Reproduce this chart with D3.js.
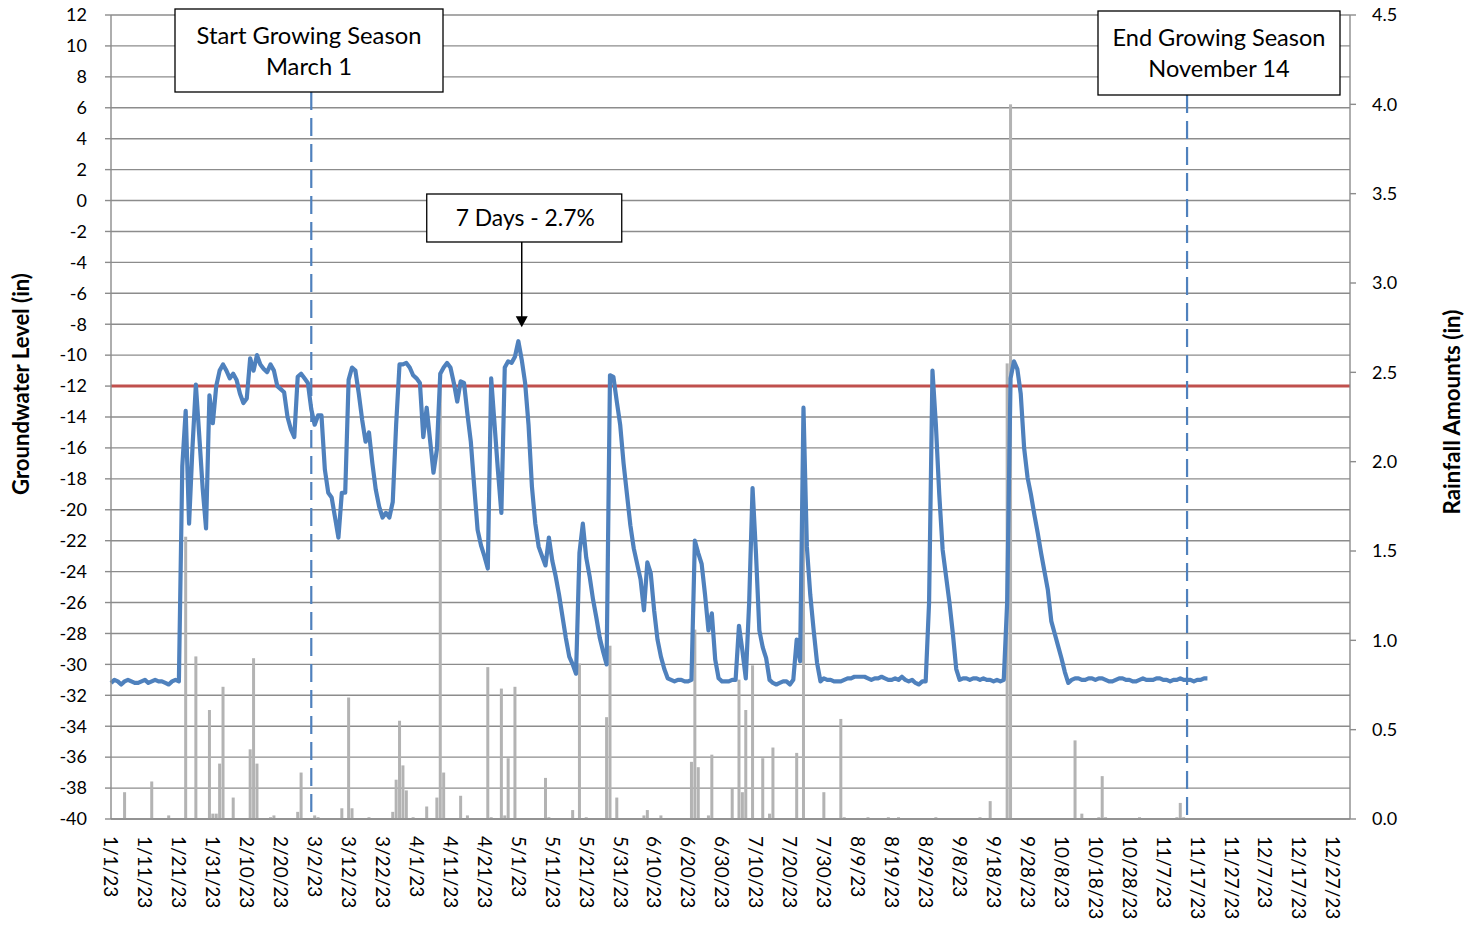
<!DOCTYPE html>
<html>
<head>
<meta charset="utf-8">
<script src="https://cdn.jsdelivr.net/npm/d3@7"></script>
<style>
  body { margin: 0; background: #fff; }
  text { font-family: Lato, "Open Sans", sans-serif; fill: #000; }
</style>
</head>
<body>
<svg id="chart" width="1470" height="929"></svg>
<script>
// Daily groundwater level (inches), one value per day starting on levelStart
const levelStart = "2023-01-01";
const levelValues = [
  -31.2,-31.0,-31.1,-31.3,-31.1,-31.0,-31.1,-31.2,-31.2,-31.1,
  -31.0,-31.2,-31.1,-31.0,-31.1,-31.1,-31.2,-31.3,-31.1,-31.0,
  -31.1,-17.2,-13.6,-20.9,-16.0,-11.9,-15.2,-18.6,-21.2,-12.6,
  -14.4,-12.0,-11.0,-10.6,-11.0,-11.5,-11.2,-11.6,-12.5,-13.1,
  -12.8,-10.2,-11.0,-10.0,-10.6,-10.9,-11.1,-10.6,-11.0,-12.0,
  -12.2,-12.4,-14.0,-14.8,-15.3,-11.4,-11.2,-11.5,-11.8,-13.5,
  -14.5,-13.9,-13.9,-17.4,-18.9,-19.2,-20.5,-21.8,-18.9,-18.9,
  -11.6,-10.8,-11.0,-12.5,-14.2,-15.6,-15.0,-17.0,-18.7,-19.8,
  -20.5,-20.2,-20.5,-19.5,-14.5,-10.6,-10.6,-10.5,-10.8,-11.3,
  -11.5,-11.8,-15.3,-13.4,-15.5,-17.6,-16.1,-11.2,-10.8,-10.5,
  -10.8,-11.8,-13.0,-11.7,-11.8,-13.8,-15.6,-18.5,-21.3,-22.3,
  -23.0,-23.8,-11.5,-14.5,-17.5,-20.2,-10.8,-10.4,-10.5,-10.1,
  -9.1,-10.3,-11.8,-14.5,-18.5,-20.9,-22.4,-23.0,-23.6,-21.8,
  -23.3,-24.3,-25.5,-26.9,-28.3,-29.5,-30.0,-30.6,-22.8,-20.9,
  -23.1,-24.3,-25.8,-27.0,-28.3,-29.2,-30.0,-11.3,-11.4,-13.0,
  -14.5,-17.0,-19.0,-21.0,-22.5,-23.5,-24.5,-26.5,-23.4,-24.1,
  -26.5,-28.4,-29.5,-30.3,-30.9,-31.0,-31.1,-31.0,-31.0,-31.1,
  -31.1,-31.0,-22.0,-22.8,-23.5,-25.5,-27.8,-26.7,-29.7,-30.9,
  -31.1,-31.1,-31.1,-31.0,-31.0,-27.5,-29.1,-30.9,-26.0,-18.6,
  -22.8,-27.8,-28.9,-29.6,-31.0,-31.2,-31.3,-31.2,-31.1,-31.1,
  -31.3,-31.0,-28.4,-29.8,-13.4,-22.4,-25.5,-27.8,-29.9,-31.1,
  -30.9,-31.0,-31.0,-31.1,-31.1,-31.1,-31.0,-30.9,-30.9,-30.8,
  -30.8,-30.8,-30.8,-30.9,-31.0,-30.9,-30.9,-30.8,-30.9,-31.0,
  -31.0,-30.9,-31.0,-30.8,-31.0,-31.1,-31.0,-31.2,-31.3,-31.1,
  -31.1,-26.0,-11.0,-14.5,-19.0,-22.6,-24.3,-26.0,-28.0,-30.3,
  -31.0,-30.9,-30.9,-31.0,-30.9,-30.9,-31.0,-30.9,-31.0,-31.0,
  -31.1,-31.0,-31.1,-31.0,-26.0,-11.5,-10.4,-10.9,-12.5,-16.0,
  -17.9,-19.0,-20.3,-21.5,-22.8,-24.0,-25.2,-27.2,-28.0,-28.8,
  -29.6,-30.5,-31.2,-31.0,-30.9,-30.9,-31.0,-31.0,-30.9,-30.9,
  -31.0,-30.9,-30.9,-31.0,-31.1,-31.1,-31.0,-30.9,-30.9,-31.0,
  -31.0,-31.1,-31.1,-31.0,-30.9,-31.0,-31.0,-31.0,-30.9,-30.9,
  -31.0,-31.0,-31.1,-31.0,-31.0,-30.9,-31.0,-31.0,-31.0,-31.1,
  -31.0,-31.0,-30.9,-30.9
];

// Daily rainfall (inches) on days with measurable rain
const rainDates = [
  "2023-01-05","2023-01-13","2023-01-18","2023-01-23","2023-01-26","2023-01-30","2023-01-31",
  "2023-02-01","2023-02-02","2023-02-03","2023-02-06","2023-02-11","2023-02-12","2023-02-13",
  "2023-02-17","2023-02-18","2023-02-25","2023-02-26","2023-03-02","2023-03-03","2023-03-10",
  "2023-03-12","2023-03-13","2023-03-18","2023-03-25","2023-03-26","2023-03-27","2023-03-28",
  "2023-03-29","2023-03-31","2023-04-04","2023-04-07","2023-04-08","2023-04-09","2023-04-14",
  "2023-04-16","2023-04-22","2023-04-23","2023-04-26","2023-04-27","2023-04-28","2023-04-30",
  "2023-05-09","2023-05-10","2023-05-17","2023-05-19","2023-05-21","2023-05-27","2023-05-28",
  "2023-05-30","2023-06-07","2023-06-08","2023-06-12","2023-06-21","2023-06-22","2023-06-23",
  "2023-06-26","2023-06-27","2023-07-03","2023-07-05","2023-07-06","2023-07-07","2023-07-09",
  "2023-07-12","2023-07-14","2023-07-15","2023-07-22","2023-07-24","2023-07-30","2023-08-04",
  "2023-08-05","2023-08-12","2023-08-18","2023-08-21","2023-09-01","2023-09-14","2023-09-17",
  "2023-09-22","2023-09-23","2023-10-12","2023-10-14","2023-10-19","2023-10-20","2023-10-21",
  "2023-10-31","2023-11-11","2023-11-12","2023-11-13"
];
const rainAmounts = [
  0.15, 0.21, 0.02, 1.58, 0.91, 0.61, 0.03,
  0.03, 0.31, 0.74, 0.12, 0.39, 0.90, 0.31,
  0.01, 0.02, 0.04, 0.26, 0.02, 0.01, 0.06,
  0.68, 0.06, 0.01, 0.04, 0.22, 0.55, 0.30,
  0.16, 0.01, 0.07, 0.12, 2.50, 0.26, 0.13,
  0.02, 0.85, 0.01, 0.73, 0.02, 0.34, 0.74,
  0.23, 0.01, 0.05, 0.87, 0.01, 0.57, 0.97,
  0.12, 0.02, 0.05, 0.02, 0.32, 1.06, 0.29,
  0.02, 0.36, 0.17, 0.78, 0.15, 0.61, 0.86,
  0.34, 0.03, 0.40, 0.37, 2.30, 0.15, 0.56,
  0.01, 0.01, 0.01, 0.01, 0.01, 0.01, 0.10,
  2.55, 4.00, 0.44, 0.03, 0.01, 0.24, 0.01,
  0.01, 0.01, 0.09, 0.01
];

const thresholdLevel = -12;
const leftTicks = [-40,-38,-36,-34,-32,-30,-28,-26,-24,-22,-20,-18,-16,-14,-12,-10,-8,-6,-4,-2,0,2,4,6,8,10,12];
const rightTicks = [0, 0.5, 1.0, 1.5, 2.0, 2.5, 3.0, 3.5, 4.0, 4.5];
const tickStepDays = 10;
const seasonStart = { date: "2023-03-01", lines: ["Start Growing Season", "March 1"] };
const seasonEnd = { date: "2023-11-14", lines: ["End Growing Season", "November 14"] };
const peakNote = { date: "2023-05-02", level: -8.2, text: "7 Days - 2.7%" };

// Layout
const plot = { left: 111, right: 1350, top: 15, bottom: 819 };
const C = {
  grid: "#8c8c8c", axis: "#8c8c8c", bar: "#b3b3b3",
  level: "#4f81bd", threshold: "#c0504d", dash: "#4f81bd"
};

const parse = d3.timeParse("%Y-%m-%d");
const start = parse(levelStart);
const levelData = levelValues.map((v, i) => ({ date: d3.timeDay.offset(start, i), value: v }));
const rainData = rainDates.map((d, i) => ({ date: parse(d), value: rainAmounts[i] }));

const x = d3.scaleTime()
  .domain([start, d3.timeYear.offset(start, 1)])
  .range([plot.left, plot.right]);
const y = d3.scaleLinear().domain([-40, 12]).range([plot.bottom, plot.top]);
const yRain = d3.scaleLinear().domain([0, 4.5]).range([plot.bottom, plot.top]);

const svg = d3.select("#chart");

// Horizontal gridlines
svg.append("g").selectAll("line").data(leftTicks).join("line")
  .attr("x1", plot.left).attr("x2", plot.right)
  .attr("y1", d => y(d)).attr("y2", d => y(d))
  .attr("stroke", C.grid).attr("stroke-width", 1.4);

// Rainfall bars
const barW = 3;
svg.append("g").selectAll("rect").data(rainData).join("rect")
  .attr("x", d => x(d.date) - barW / 2)
  .attr("width", barW)
  .attr("y", d => yRain(d.value))
  .attr("height", d => yRain(0) - yRain(d.value))
  .attr("fill", C.bar);

// Threshold level
svg.append("line")
  .attr("x1", plot.left).attr("x2", plot.right)
  .attr("y1", y(thresholdLevel)).attr("y2", y(thresholdLevel))
  .attr("stroke", C.threshold).attr("stroke-width", 3);

// Groundwater level
svg.append("path").datum(levelData)
  .attr("d", d3.line().x(d => x(d.date)).y(d => y(d.value)))
  .attr("fill", "none").attr("stroke", C.level)
  .attr("stroke-width", 4.2).attr("stroke-linejoin", "round");

// Axes
const axisG = svg.append("g");
axisG.append("line").attr("x1", plot.left).attr("x2", plot.left)
  .attr("y1", plot.top).attr("y2", plot.bottom).attr("stroke", C.axis).attr("stroke-width", 1.4);
axisG.append("line").attr("x1", plot.right).attr("x2", plot.right)
  .attr("y1", plot.top).attr("y2", plot.bottom).attr("stroke", C.axis).attr("stroke-width", 1.4);
axisG.append("line").attr("x1", plot.left).attr("x2", plot.right)
  .attr("y1", plot.bottom).attr("y2", plot.bottom).attr("stroke", C.axis).attr("stroke-width", 1.4);

// Left axis ticks and labels
axisG.selectAll(".lt").data(leftTicks).join("line")
  .attr("x1", plot.left - 6).attr("x2", plot.left)
  .attr("y1", d => y(d)).attr("y2", d => y(d))
  .attr("stroke", C.axis).attr("stroke-width", 1.4);
axisG.selectAll(".ll").data(leftTicks).join("text")
  .attr("x", 87).attr("y", d => y(d)).attr("dy", "0.35em")
  .attr("text-anchor", "end").attr("font-size", 18)
  .text(d => d);

// Right axis ticks and labels
axisG.selectAll(".rt").data(rightTicks).join("line")
  .attr("x1", plot.right).attr("x2", plot.right + 6)
  .attr("y1", d => yRain(d)).attr("y2", d => yRain(d))
  .attr("stroke", C.axis).attr("stroke-width", 1.4);
axisG.selectAll(".rl").data(rightTicks).join("text")
  .attr("x", 1372).attr("y", d => yRain(d)).attr("dy", "0.35em")
  .attr("text-anchor", "start").attr("font-size", 18)
  .text(d => d3.format(".1f")(d));

// Bottom axis labels, every ten days, rotated to read downward
const xTicks = d3.range(0, 361, tickStepDays).map(i => d3.timeDay.offset(start, i));
const fmt = d => `${d.getMonth() + 1}/${d.getDate()}/${String(d.getFullYear()).slice(2)}`;
axisG.selectAll(".xl").data(xTicks).join("text")
  .attr("transform", d => `translate(${x(d)},836) rotate(90)`)
  .attr("dy", "0.35em").attr("text-anchor", "start").attr("font-size", 19)
  .text(fmt);

// Axis titles
function fitWidth(sel, target) {
  const fs = parseFloat(sel.attr("font-size"));
  const w = sel.node().getComputedTextLength();
  if (w > 0) sel.attr("font-size", (fs * target / w).toFixed(2));
}
const ltitle = svg.append("text")
  .attr("transform", "translate(21,384) rotate(-90)")
  .attr("text-anchor", "middle").attr("dy", "0.35em")
  .attr("font-weight", "bold").attr("font-size", 18)
  .text("Groundwater Level (in)");
fitWidth(ltitle, 222);
const rtitle = svg.append("text")
  .attr("transform", "translate(1452,412) rotate(-90)")
  .attr("text-anchor", "middle").attr("dy", "0.35em")
  .attr("font-weight", "bold").attr("font-size", 18)
  .text("Rainfall Amounts (in)");
fitWidth(rtitle, 205);

// Growing season markers: dashed verticals with label boxes
function seasonMarker(m, box, textWidth) {
  const xd = x(parse(m.date));
  svg.append("line")
    .attr("x1", xd).attr("x2", xd)
    .attr("y1", box.y + box.h).attr("y2", plot.bottom - 4)
    .attr("stroke", C.dash).attr("stroke-width", 2.2)
    .attr("stroke-dasharray", "18,8");
  svg.append("rect")
    .attr("x", box.x).attr("y", box.y).attr("width", box.w).attr("height", box.h)
    .attr("fill", "#fff").attr("stroke", "#000").attr("stroke-width", 1.3);
  const t = svg.append("text")
    .attr("text-anchor", "middle").attr("font-size", 22);
  m.lines.forEach((s, i) => {
    t.append("tspan").attr("x", box.x + box.w / 2)
      .attr("y", box.y + 27 + i * 31).attr("dy", "0.35em").text(s);
  });
  // scale the pair of lines so the longer one spans the measured width
  const first = t.select("tspan").node();
  const w = first.getComputedTextLength();
  if (w > 0) t.attr("font-size", (22 * textWidth / w).toFixed(2));
}
seasonMarker(seasonStart, { x: 175, y: 9, w: 268, h: 83 }, 225);
seasonMarker(seasonEnd, { x: 1098, y: 11, w: 242, h: 84 }, 213);

// Peak annotation with arrow
const ax = x(parse(peakNote.date));
const tipY = y(peakNote.level);
const nb = { x: ax - 95, y: 194, w: 195, h: 48 };
svg.append("line").attr("x1", ax).attr("x2", ax)
  .attr("y1", nb.y + nb.h).attr("y2", tipY - 9)
  .attr("stroke", "#000").attr("stroke-width", 1.5);
svg.append("path")
  .attr("d", `M${ax - 6},${tipY - 11}L${ax + 6},${tipY - 11}L${ax},${tipY}Z`)
  .attr("fill", "#000");
svg.append("rect").attr("x", nb.x).attr("y", nb.y).attr("width", nb.w).attr("height", nb.h)
  .attr("fill", "#fff").attr("stroke", "#000").attr("stroke-width", 1.3);
const nt = svg.append("text").attr("x", nb.x + nb.w / 2 + 1).attr("y", nb.y + nb.h / 2)
  .attr("dy", "0.35em").attr("text-anchor", "middle").attr("font-size", 22)
  .text(peakNote.text);
fitWidth(nt, 139);
</script>
</body>
</html>
